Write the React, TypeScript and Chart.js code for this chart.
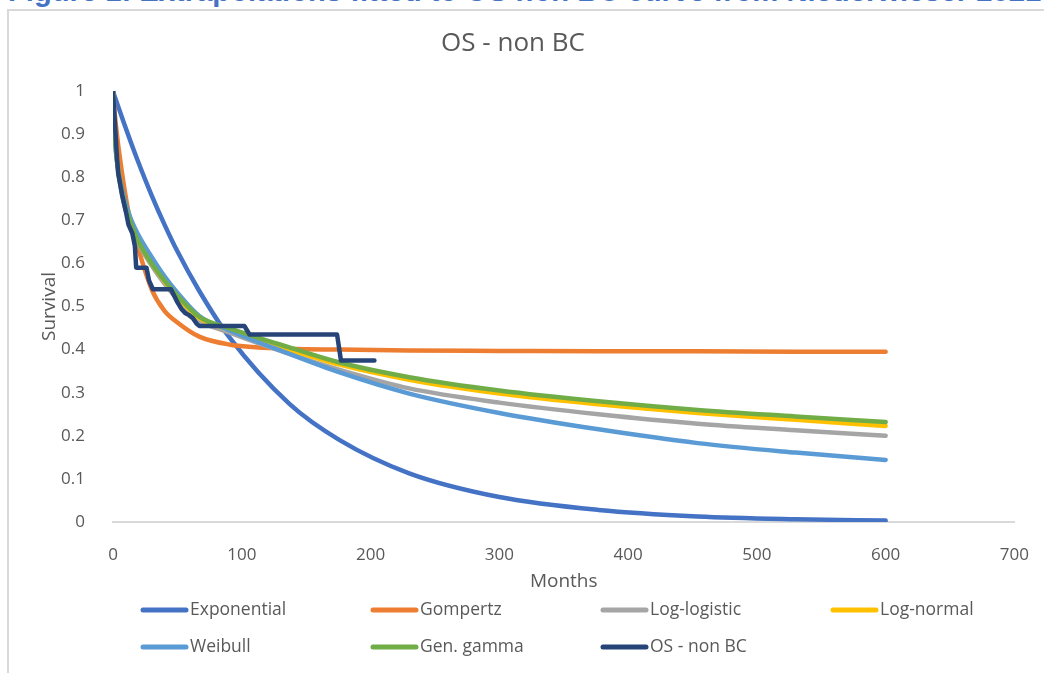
import React, { useEffect, useRef } from "react";
import { Chart, registerables } from "chart.js";

Chart.register(...registerables);

// ---------- data ----------
const fitMonths = [0, 1, 3, 8, 13, 19, 30, 40, 50, 67, 90, 137, 176, 230, 300, 377, 454, 530, 600];

const exponential = [1, 0.99, 0.973, 0.93, 0.888, 0.84, 0.758, 0.69, 0.628, 0.536, 0.43, 0.274, 0.19, 0.113, 0.058, 0.028, 0.013, 0.0065, 0.0034];
const gompertz = [1, 0.96, 0.9, 0.79, 0.705, 0.64, 0.54, 0.49, 0.463, 0.43, 0.412, 0.402, 0.4, 0.398, 0.397, 0.396, 0.396, 0.395, 0.395];
const logLogistic = [1, 0.93, 0.84, 0.745, 0.695, 0.65, 0.595, 0.553, 0.517, 0.468, 0.44, 0.39, 0.353, 0.31, 0.277, 0.25, 0.228, 0.213, 0.2];
const logNormal = [1, 0.93, 0.845, 0.75, 0.7, 0.655, 0.6, 0.558, 0.522, 0.473, 0.446, 0.4, 0.365, 0.33, 0.298, 0.273, 0.253, 0.237, 0.223];
const weibull = [1, 0.91, 0.84, 0.76, 0.71, 0.67, 0.615, 0.57, 0.532, 0.478, 0.445, 0.39, 0.347, 0.298, 0.253, 0.215, 0.183, 0.161, 0.144];
const genGamma = [1, 0.92, 0.84, 0.75, 0.7, 0.655, 0.6, 0.56, 0.525, 0.476, 0.45, 0.405, 0.37, 0.336, 0.305, 0.28, 0.26, 0.245, 0.232];

const kmMonths = [0, 1, 2, 3, 4, 7, 10, 12, 15, 17, 18, 26, 28, 31, 45, 50, 53, 56, 59, 62, 65, 67, 102, 106, 174, 177, 203];
const kmSurvival = [1, 0.95, 0.9, 0.85, 0.81, 0.76, 0.72, 0.69, 0.67, 0.64, 0.59, 0.59, 0.56, 0.54, 0.54, 0.51, 0.495, 0.485, 0.48, 0.473, 0.46, 0.455, 0.455, 0.435, 0.435, 0.375, 0.375];

const seriesNames = ["Exponential", "Gompertz", "Log-logistic", "Log-normal", "Weibull", "Gen. gamma", "OS - non BC"];
const seriesColors = ["#4472C4", "#ED7D31", "#A5A5A5", "#FFC000", "#5B9BD5", "#70AD47", "#264478"];

const chartTitle = "OS - non BC";
const xTitle = "Months";
const yTitle = "Survival";
const figureCaption = "Figure 1: Extrapolations fitted to OS non BC curve from Niederwieser 2021";

const FONT = '"Open Sans", "Noto Sans", sans-serif';
const TEXT = "#595959";

const toPoints = (xs: number[], ys: number[]) => xs.map((x, i) => ({ x, y: ys[i] }));

const legendPlugin = {
  id: "excelLegend",
  afterDraw(chart: any) {
    const ctx = chart.ctx;
    ctx.save();
    chart.data.datasets.forEach((ds: any, i: number) => {
      const col = i % 4;
      const row = Math.floor(i / 4);
      const x0 = 134 + col * 230;
      const y = 599 + row * 37;
      ctx.strokeStyle = ds.borderColor;
      ctx.lineWidth = 5;
      ctx.lineCap = "round";
      ctx.beginPath();
      ctx.moveTo(x0, y);
      ctx.lineTo(x0 + 43, y);
      ctx.stroke();
      ctx.fillStyle = TEXT;
      ctx.font = `17.5px ${FONT}`;
      ctx.textBaseline = "middle";
      ctx.textAlign = "left";
      ctx.fillText(ds.label, x0 + 47, y);
    });
    ctx.restore();
  },
};

export default function App() {
  const canvasRef = useRef<HTMLCanvasElement | null>(null);

  useEffect(() => {
    if (!canvasRef.current) return;
    const fits = [exponential, gompertz, logLogistic, logNormal, weibull, genGamma];
    const datasets: any[] = fits.map((vals, i) => ({
      label: seriesNames[i],
      data: toPoints(fitMonths, vals),
      borderColor: seriesColors[i],
      backgroundColor: seriesColors[i],
      borderWidth: 4.5,
      borderCapStyle: "round",
      borderJoinStyle: "round",
      pointRadius: 0,
      cubicInterpolationMode: "monotone",
      fill: false,
      order: 6 - i,
    }));
    datasets.push({
      label: seriesNames[6],
      data: toPoints(kmMonths, kmSurvival),
      borderColor: seriesColors[6],
      backgroundColor: seriesColors[6],
      borderWidth: 4.5,
      borderCapStyle: "round",
      borderJoinStyle: "round",
      pointRadius: 0,
      tension: 0,
      fill: false,
      order: 0,
    });

    const chart = new Chart(canvasRef.current, {
      type: "line",
      data: { datasets },
      plugins: [legendPlugin],
      options: {
        animation: false,
        responsive: false,
        maintainAspectRatio: false,
        layout: { padding: { top: 0, left: 0, right: 27, bottom: 0 } },
        plugins: {
          legend: { display: false },
          tooltip: { enabled: false },
          title: {
            display: true,
            text: chartTitle,
            color: TEXT,
            font: { family: FONT, size: 26, weight: "normal" },
            padding: { top: 17, bottom: 31.8 },
          },
        },
        scales: {
          x: {
            type: "linear",
            min: 0,
            max: 700,
            ticks: { stepSize: 100, color: TEXT, font: { family: FONT, size: 17 }, padding: 15 },
            grid: { display: false },
            border: { display: true, color: "#D9D9D9", width: 2 },
            title: {
              display: true,
              text: xTitle,
              color: TEXT,
              font: { family: FONT, size: 19 },
              padding: { top: 0, bottom: 80 },
            },
            afterFit: (scale: any) => {
              scale.height = 151;
            },
          },
          y: {
            min: 0,
            max: 1,
            ticks: {
              stepSize: 0.1,
              color: TEXT,
              font: { family: FONT, size: 17 },
              padding: 20,
              callback: (v: any) => String(Math.round(Number(v) * 10) / 10),
            },
            grid: { display: false },
            border: { display: false },
            title: {
              display: true,
              text: yTitle,
              color: TEXT,
              font: { family: FONT, size: 19 },
              padding: { top: 29.6, bottom: 0 },
            },
            afterFit: (scale: any) => {
              scale.width = 104;
            },
          },
        },
      },
    } as any);
    return () => chart.destroy();
  }, []);

  return (
    <div
      style={{
        position: "fixed",
        left: 0,
        top: 0,
        width: 1044,
        height: 673,
        overflow: "hidden",
        background: "#ffffff",
      }}
    >
      <div
        style={{
          position: "absolute",
          left: 8,
          top: -23,
          whiteSpace: "nowrap",
          fontFamily: '"Liberation Sans", Arial, sans-serif',
          fontWeight: "bold",
          fontSize: 29.2,
          lineHeight: "29.2px",
          color: "#4472C4",
        }}
      >
        {figureCaption}
      </div>
      <div
        style={{
          position: "absolute",
          left: 7,
          top: 9,
          width: 1100,
          height: 700,
          borderTop: "2px solid #D9D9D9",
          borderLeft: "2px solid #D9D9D9",
          background: "#ffffff",
        }}
      />
      <canvas
        ref={canvasRef}
        width={1035}
        height={662}
        style={{ position: "absolute", left: 9, top: 11, width: 1035, height: 662 }}
      />
    </div>
  );
}
